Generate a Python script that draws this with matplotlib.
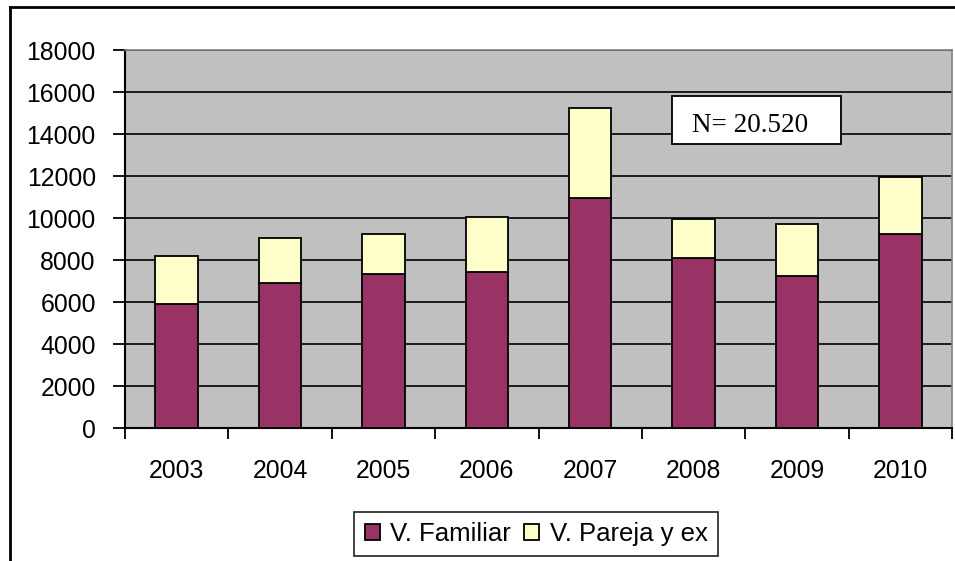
import matplotlib
matplotlib.use('Agg')
import matplotlib.pyplot as plt
import numpy as np
from matplotlib.patches import Rectangle

# values
years = ['2003', '2004', '2005', '2006', '2007', '2008', '2009', '2010']
familiar = [5900, 6920, 7320, 7410, 10940, 8080, 7240, 9220]
total = [8190, 9030, 9220, 10060, 15220, 9950, 9700, 11970]
pareja = [t - f for t, f in zip(total, familiar)]
yticks = [0, 2000, 4000, 6000, 8000, 10000, 12000, 14000, 16000, 18000]
note = 'N= 20.520'

plt.rcParams['font.family'] = ['Liberation Sans', 'DejaVu Sans']

fig = plt.figure(figsize=(9.55, 5.61), dpi=100)
ax = fig.add_axes([125/955, 1 - 428/561, 827/955, 378/561])
ax.set_facecolor('#C0C0C0')

x = np.arange(len(years))
width = 0.41
ax.bar(x, familiar, width, color='#993366', edgecolor='black', linewidth=1.3,
       label='V. Familiar', zorder=3)
ax.bar(x, pareja, width, bottom=familiar, color='#FFFFCC', edgecolor='black',
       linewidth=1.3, label='V. Pareja y ex', zorder=3)

ax.set_xlim(-0.5, len(years) - 0.5)
ax.set_ylim(0, 18000)
ax.set_yticks(yticks)
ax.yaxis.grid(True, color='black', linewidth=1.2)
ax.set_axisbelow(True)

ax.set_xticks(np.arange(len(years) + 1) - 0.5)
ax.set_xticklabels([])
ax.set_xticks(x, minor=True)
ax.set_xticklabels(years, minor=True)
ax.tick_params(axis='x', which='major', length=8, width=1.3, direction='out')
ax.tick_params(axis='x', which='minor', length=0, pad=22, labelsize=17.8)
ax.tick_params(axis='y', length=9, width=1.3, direction='out', pad=12,
               labelsize=17.8)

for s in ['left', 'bottom']:
    ax.spines[s].set_color('black')
    ax.spines[s].set_linewidth(1.5)
for s in ['top', 'right']:
    ax.spines[s].set_color('#808080')
    ax.spines[s].set_linewidth(1.2)

# N box
fig.add_artist(Rectangle((671.7/955, 1 - 144/561), 169/955, 48.3/561,
                         transform=fig.transFigure, facecolor='white',
                         edgecolor='black', linewidth=1.3, zorder=4))
fig.text(692/955, 1 - 131.5/561, note, family='Liberation Serif',
         fontsize=19.5, ha='left', va='baseline', zorder=5)

leg = fig.legend(loc='center', bbox_to_anchor=(536/955, 1 - 534/561), ncol=2,
                 fontsize=18.5, frameon=True, fancybox=False, edgecolor='black',
                 handlelength=0.6, handleheight=0.6, handletextpad=0.4,
                 columnspacing=0.5, borderpad=0.4, borderaxespad=0)
leg.get_frame().set_linewidth(1.3)

# outer chart border (cut off at right and bottom)
fig.add_artist(plt.Line2D([10/955, 1], [1 - 7/561, 1 - 7/561],
                          transform=fig.transFigure, color='black', linewidth=2))
fig.add_artist(plt.Line2D([10/955, 10/955], [0, 1 - 7/561],
                          transform=fig.transFigure, color='black', linewidth=2))

fig.savefig('out.png', dpi=100)
